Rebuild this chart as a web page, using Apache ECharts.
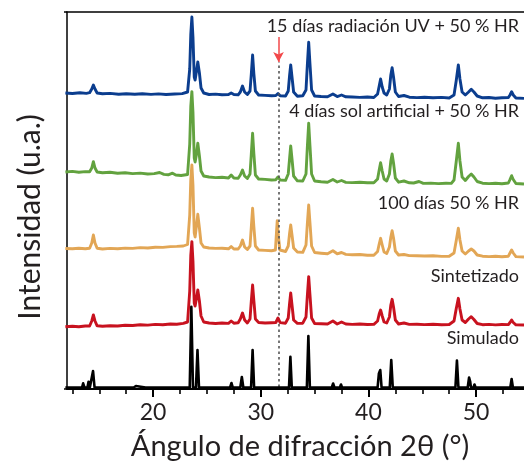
<!DOCTYPE html>
<html>
<head>
<meta charset="utf-8">
<script src="https://cdn.jsdelivr.net/npm/echarts/dist/echarts.min.js"></script>
<style>
  html, body { margin: 0; padding: 0; background: #fff; }
  #chart { width: 524px; height: 464px; }
</style>
</head>
<body>
<div id="chart"></div>
<script>
// XRD patterns, 2θ (°) vs. intensity (a.u.), each relative to its own baseline
const patternUV = [[11.85,6],[12.5,5.5],[13.2,6.2],[13.8,5.6],[14.1,6.3],[14.3,10],[14.45,14],[14.6,10],[14.8,6],[15.3,5.2],[16,5.6],[16.8,4.8],[17.5,5.3],[18.3,4.7],[19,5.2],[19.8,4.6],[20.5,5.1],[21.2,4.5],[22,5],[22.7,5.4],[23.2,7],[23.4,30],[23.5,65],[23.6,82],[23.7,62],[23.82,22],[23.9,19],[24.0,26],[24.15,37],[24.3,26],[24.45,11],[24.7,6],[25.2,4.5],[25.8,4.9],[26.4,4.2],[27.0,4.5],[27.25,6],[27.5,4.5],[27.9,4.2],[28.1,7],[28.3,13],[28.5,7],[28.75,4.5],[29.0,8],[29.12,25],[29.24,44],[29.36,25],[29.5,8],[29.8,4],[30.4,3.6],[31,3.3],[31.4,3.5],[31.6,5.5],[31.8,3.2],[32.3,3],[32.55,8],[32.68,24],[32.78,34],[32.9,22],[33.05,7],[33.4,2.8],[33.9,3.2],[34.2,9],[34.33,35],[34.45,56.7],[34.57,35],[34.72,9],[35.0,3],[35.6,2.5],[36.2,2.2],[36.7,5],[37.1,2.4],[37.5,4],[37.9,2.2],[38.5,2],[39.2,1.6],[39.9,2],[40.5,1.5],[40.85,5],[41.0,13],[41.13,20],[41.28,12],[41.45,6],[41.7,4],[41.95,10],[42.08,24],[42.2,31.3],[42.33,22],[42.5,7],[42.8,2.5],[43.3,3.5],[43.8,1.8],[44.5,1.4],[45.2,1.8],[46,1.2],[46.8,1.6],[47.5,1],[47.95,4],[48.15,18],[48.35,34],[48.5,20],[48.7,7],[49.0,4],[49.3,7],[49.55,9.7],[49.8,7],[50.1,3],[50.6,1.2],[51.2,1.5],[51.8,0.8],[52.4,1.2],[53.0,1.5],[53.15,4],[53.3,7.3],[53.45,4],[53.7,1],[54.45,0.6]];

const patternSun = [[11.85,12],[12.5,12.6],[13.1,11.8],[13.7,12.4],[14.1,12.2],[14.3,16],[14.45,22.3],[14.6,16],[14.8,12],[15.3,11.2],[16,11.7],[16.7,10.8],[17.4,11.3],[18.1,10.4],[18.8,10.9],[19.5,10],[20.1,10.4],[20.6,11.5],[21,9.6],[21.4,9.2],[21.8,10.8],[22.1,9],[22.6,8.5],[23.2,9.5],[23.4,40],[23.5,78],[23.6,92.3],[23.7,72],[23.82,26],[23.9,22],[24.0,28],[24.15,40.7],[24.3,28],[24.45,13],[24.7,8],[25.2,7],[25.8,6.4],[26.4,6.8],[27.0,6],[27.25,9],[27.5,6],[27.9,5.8],[28.1,9],[28.3,14],[28.5,8],[28.75,5.5],[29.0,10],[29.12,30],[29.24,50.7],[29.36,30],[29.5,9],[29.8,5],[30.4,4.6],[31,4],[31.4,4.3],[31.6,7],[31.8,4],[32.3,3.6],[32.55,10],[32.68,26],[32.78,38],[32.9,25],[33.05,8],[33.4,3.2],[33.9,3],[34.2,10],[34.33,38],[34.45,60.7],[34.57,38],[34.72,10],[35,3],[35.6,2.2],[36.2,1.8],[36.7,4.5],[37.1,2],[37.5,3.5],[37.9,1.6],[38.5,1.4],[39.2,1.8],[39.9,1.2],[40.5,1.2],[40.85,5],[41.0,14],[41.13,21.3],[41.28,13],[41.45,5],[41.7,3],[41.95,10],[42.08,23],[42.2,30],[42.33,21],[42.5,6],[42.8,1.8],[43.3,3],[43.8,1.2],[44.2,1],[44.7,2.5],[45.1,0.6],[45.8,0.9],[46.5,0.4],[47.2,0.8],[47.7,0.6],[47.95,4],[48.15,22],[48.35,40.7],[48.5,23],[48.7,7],[49.0,3.5],[49.3,7.5],[49.55,10],[49.8,7],[50.1,2.5],[50.6,0.8],[51.2,0.4],[51.8,0.8],[52.4,0.3],[53.0,1],[53.15,4.5],[53.3,8.3],[53.45,4.5],[53.7,0.5],[54.45,0]];

const pattern100d = [[11.85,8.5],[12.5,8.2],[13.1,8.8],[13.7,8.3],[14.1,8.8],[14.3,14],[14.45,22],[14.6,14],[14.8,8.8],[15.3,8],[16,8.6],[16.7,8.2],[17.4,8.9],[18.1,8.6],[18.8,9.4],[19.5,9],[20.2,9.8],[20.9,9.6],[21.6,10.4],[22.2,10.6],[22.8,11],[23.2,12.5],[23.4,42],[23.5,78],[23.6,92],[23.7,72],[23.82,24],[23.9,20],[24.0,29],[24.15,42.7],[24.3,29],[24.45,14],[24.7,10],[25.2,9],[25.8,8.6],[26.4,8.8],[27.0,8.2],[27.25,10.5],[27.5,8],[27.9,8],[28.1,11],[28.3,17],[28.5,10],[28.75,7.5],[29.0,11],[29.12,30],[29.24,48.7],[29.36,30],[29.5,11],[29.8,7],[30.4,6.6],[31,6.3],[31.36,7],[31.46,25],[31.53,36.3],[31.62,22],[31.78,7],[32.3,5.5],[32.55,11],[32.68,24],[32.78,32],[32.9,22],[33.05,9],[33.4,5],[33.9,4.6],[34.2,12],[34.33,34],[34.45,52],[34.57,34],[34.72,11],[35,4.5],[35.6,3.8],[36.2,3.2],[36.7,6.3],[37.1,3.2],[37.5,4.5],[37.9,2.6],[38.5,2.2],[39.2,2.5],[39.9,1.8],[40.5,1.8],[40.85,5.5],[41.0,13],[41.13,18.7],[41.28,12],[41.45,5],[41.7,3.5],[41.95,10],[42.08,20],[42.2,26.3],[42.33,19],[42.5,6],[42.8,2],[43.3,2.5],[43.8,1.4],[44.5,1.2],[45.2,1],[46,1.2],[46.8,0.6],[47.5,0.8],[47.95,4],[48.15,16],[48.35,28.7],[48.5,17],[48.7,6],[49.0,3],[49.3,6],[49.55,8],[49.8,6],[50.1,2],[50.6,0.8],[51.2,0.4],[51.8,0.7],[52.4,0.2],[53.0,0.8],[53.15,4],[53.3,7],[53.45,4],[53.7,0.4],[54.45,0]];

const patternSynth = [[11.85,0.3],[12.5,0.8],[13.1,0.2],[13.7,1],[14.1,1],[14.3,6],[14.45,12],[14.6,6],[14.8,1.2],[15.3,0.8],[16,1.3],[16.7,1],[17.4,1.8],[18.1,1.5],[18.8,2.2],[19.5,1.9],[20.2,2.6],[20.9,2.3],[21.6,3],[22.2,2.8],[22.8,3.6],[23.2,5],[23.4,36],[23.5,72],[23.6,85.3],[23.7,66],[23.82,24],[23.9,21],[24.0,27],[24.15,37],[24.3,26],[24.45,11],[24.7,5],[25.2,4],[25.8,3.5],[26.4,4],[27.0,3.6],[27.25,6],[27.5,3.8],[27.9,4.2],[28.1,8],[28.3,14],[28.5,7],[28.75,4],[29.0,8],[29.12,26],[29.24,42],[29.36,26],[29.5,8],[29.8,4.5],[30.4,4],[31,4.3],[31.4,4.5],[31.6,9],[31.8,4.4],[32.3,3.8],[32.55,9],[32.68,24],[32.78,34],[32.9,22],[33.05,7],[33.4,3.6],[33.9,3.8],[34.2,10],[34.33,32],[34.45,50.3],[34.57,32],[34.72,9],[35,3.5],[35.6,3.2],[36.2,3],[36.7,6],[37.1,3],[37.5,5],[37.9,3],[38.5,2.6],[39.2,3],[39.9,2.5],[40.5,2.7],[40.85,6],[41.0,13],[41.13,17],[41.28,11],[41.45,5],[41.7,4],[41.95,10],[42.08,22],[42.2,27.7],[42.33,20],[42.5,7],[42.8,3],[43.3,4],[43.8,2.6],[44.5,2.8],[45.2,2.4],[46,2.7],[46.8,2.2],[47.5,2.5],[47.95,6],[48.15,18],[48.35,28.7],[48.5,18],[48.7,7],[49.0,4.5],[49.3,8],[49.55,10.3],[49.8,7.5],[50.1,3.5],[50.6,2.3],[51.2,2.6],[51.8,2.1],[52.4,2.5],[53.0,2.4],[53.15,4.5],[53.3,7],[53.45,4.5],[53.7,2.2],[54.45,2]];

const patternSim = [[11.85,0],[12.8,0],[13.4,0],[13.5,4.2],[13.62,0],[13.9,0],[14.0,5.8],[14.12,0],[14.28,0],[14.42,16.5],[14.56,0],[15.5,0],[16.5,0],[17.4,0],[18.0,0],[18.1,1.5],[18.2,0],[18.3,0],[18.4,1.5],[18.5,0],[19.3,0],[20.1,0],[20.9,0],[21.7,0],[21.8,2],[21.9,0],[22.6,0],[23.4,0],[23.55,80.8],[23.7,0],[23.98,0],[24.12,37.5],[24.26,0],[25.2,0],[26.2,0],[27.15,0],[27.28,4.5],[27.4,0],[28.1,0],[28.24,10.5],[28.38,0],[29.1,0],[29.24,37.5],[29.38,0],[30.4,0],[31.5,0],[31.6,2],[31.7,0],[32.62,0],[32.75,30.8],[32.88,0],[33.6,0],[34.28,0],[34.42,51.5],[34.56,0],[35.5,0],[36.6,0],[36.72,4],[36.84,0],[37.35,0],[37.45,3],[37.55,0],[38.6,0],[39.7,0],[40.85,0],[40.97,14],[41.03,12],[41.1,17.5],[41.22,0],[41.98,0],[42.12,27.5],[42.26,0],[43.2,0],[43.3,1.5],[43.4,0],[44.1,0],[44.2,1.5],[44.3,0],[44.7,0],[44.8,1.5],[44.9,0],[46,0],[47.1,0],[48.08,0],[48.22,27],[48.36,0],[49.22,0],[49.35,10],[49.45,6],[49.52,0],[49.75,0],[49.85,3],[49.95,0],[50.6,0],[51.2,0],[51.3,1.5],[51.4,0],[51.9,0],[52,1.5],[52.1,0],[52.7,0],[53.18,0],[53.3,8.5],[53.42,0],[54.45,0]];

const patterns = [patternUV, patternSun, pattern100d, patternSynth, patternSim];
const sampleNames = ['15 días radiación UV + 50 % HR', '4 días sol artificial + 50 % HR', '100 días 50 % HR', 'Sintetizado', 'Simulado'];
const stackOffsets = [290, 205, 132, 62, 1.5];   // vertical offset of each pattern (a.u.)
const lineColors = ['#0b3d8e', '#62a23f', '#e2a655', '#c8121f', '#000000'];

const majorTicks = [20, 30, 40, 50];
const minorTicks = [12.5, 15, 17.5, 22.5, 25, 27.5, 32.5, 35, 37.5, 42.5, 45, 47.5, 52.5];
const refAngle = 31.65;          // reflection marked by the dotted guide
const xMin = 12, xMax = 54.45, yMax = 377;

const FONT = 'Lato';
const TEXT = '#231f20';
const chart = echarts.init(document.getElementById('chart'), null, { renderer: 'canvas' });

const series = patterns.map((pts, i) => ({
  name: sampleNames[i],
  type: 'line',
  xAxisIndex: 0,
  yAxisIndex: 0,
  data: pts.map(p => [p[0], p[1] + stackOffsets[i]]),
  showSymbol: false,
  symbol: 'none',
  clip: false,
  lineStyle: { color: lineColors[i], width: i === 4 ? 2.6 : 2.9, join: 'round' },
  animation: false,
  z: 2 + i
}));

// dotted guide line and arrow above the patterns
series.push({
  type: 'line',
  data: [],
  xAxisIndex: 0,
  yAxisIndex: 0,
  z: 10,
  markLine: {
    silent: true,
    animation: false,
    label: { show: false },
    data: [
      [{ coord: [refAngle, 2], symbol: 'none', lineStyle: { color: '#555', width: 1.6, type: [2.5, 3] } },
       { coord: [refAngle, 327], symbol: 'none' }],
      [{ coord: [refAngle, 352], symbol: 'none', lineStyle: { color: '#f2484a', width: 1.5, type: 'solid' } },
       { coord: [refAngle, 327], symbol: 'arrow', symbolSize: [8, 10] }]
    ]
  }
});

const labelY = [28, 113.5, 205, 278.5, 340];
const graphics = sampleNames.map((t, i) => ({
  type: 'text',
  right: 5,
  top: labelY[i] - 11,
  z: 20,
  style: { text: t, font: '18px ' + FONT, fill: TEXT }
}));
graphics.push({
  type: 'text', x: 30, y: 217, rotation: Math.PI / 2, z: 20,
  style: { text: 'Intensidad (u.a.)', font: '30px ' + FONT, fill: TEXT, align: 'center', verticalAlign: 'middle' }
});
graphics.push({
  type: 'text', x: 300, y: 447, z: 20,
  style: { text: 'Ángulo de difracción 2θ (°)', font: '29px ' + FONT, fill: TEXT, align: 'center', verticalAlign: 'middle' }
});

chart.setOption({
  animation: false,
  backgroundColor: '#fff',
  grid: { left: 67, right: 0, top: 12, bottom: 75, containLabel: false },
  xAxis: [
    {
      type: 'value', min: xMin, max: xMax, position: 'bottom',
      axisLine: { show: true, onZero: false, lineStyle: { color: '#000', width: 2 } },
      axisTick: { show: true, customValues: majorTicks, length: 8, lineStyle: { color: '#000', width: 2 } },
      axisLabel: { show: true, customValues: majorTicks, fontSize: 23, fontFamily: FONT, color: TEXT, margin: 12 },
      splitLine: { show: false }
    },
    {
      type: 'value', min: xMin, max: xMax, position: 'bottom',
      axisLine: { show: false },
      axisTick: { show: true, customValues: minorTicks, length: 5, lineStyle: { color: '#000', width: 1.6 } },
      axisLabel: { show: false },
      splitLine: { show: false }
    },
    {
      type: 'value', min: xMin, max: xMax, position: 'top',
      axisLine: { show: true, onZero: false, lineStyle: { color: '#000', width: 1.5 } },
      axisTick: { show: false },
      axisLabel: { show: false },
      splitLine: { show: false }
    }
  ],
  yAxis: {
    type: 'value', min: 0, max: yMax,
    axisLine: { show: true, onZero: false, lineStyle: { color: '#000', width: 1.5 } },
    axisTick: { show: true, customValues: [0, yMax], length: 3, lineStyle: { color: '#000', width: 1.5 } },
    axisLabel: { show: false },
    splitLine: { show: false }
  },
  series: series,
  graphic: graphics
});
</script>
</body>
</html>
